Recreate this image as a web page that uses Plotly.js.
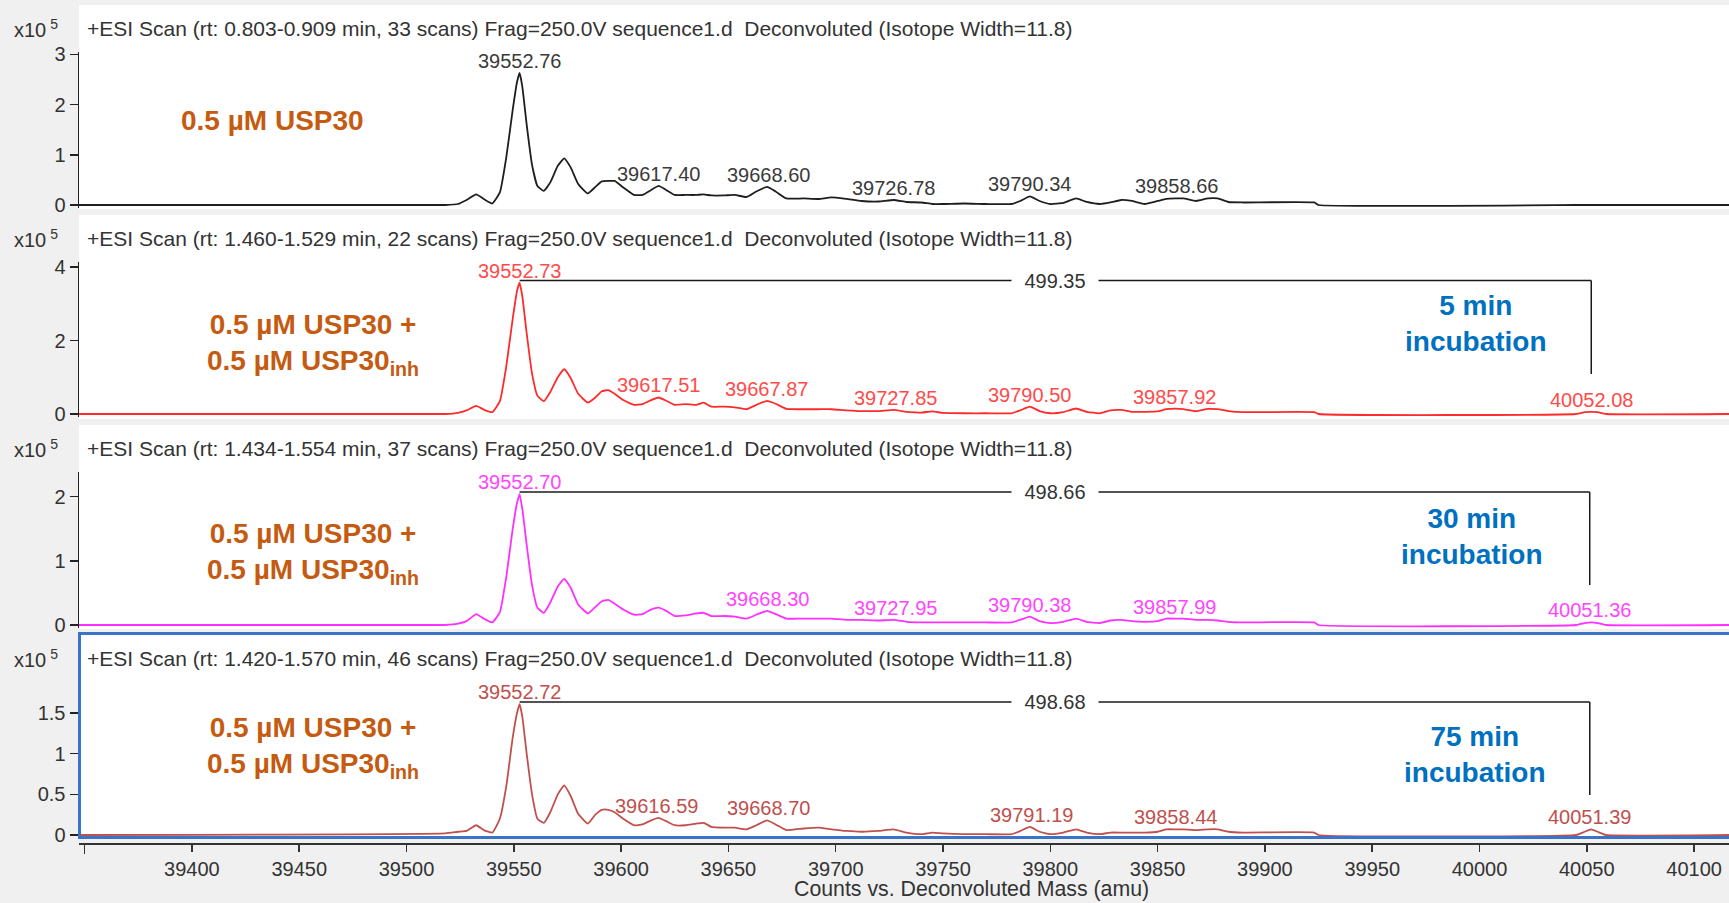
<!DOCTYPE html>
<html><head><meta charset="utf-8">
<script src="https://cdn.plot.ly/plotly-3.0.1.min.js"></script>
<style>html,body{margin:0;padding:0;background:#f0f0f0;} #chart{width:1729px;height:903px;}</style>
</head><body><div id="chart"></div>
<script>
// ---------------- DATA ----------------
const mass = [39347,39518,39524,39528,39532.5,39536,39540,39543.5,39546.5,39549.5,39551.5,39552.7,39554,39556,39558.5,39561,39564,39567,39570.5,39573.5,39576.5,39580,39584.5,39588,39591,39594,39597,39601,39606,39610,39614,39617.5,39621,39625,39630,39635,39638.5,39642,39648,39653,39658.5,39663,39668,39672,39677,39685,39692,39698,39705,39712,39720,39727,39733,39740,39745,39750,39760,39770,39782,39786,39790.5,39795,39800,39806,39812,39817,39823,39828,39833,39838,39844,39850,39854,39858.5,39862,39868,39873.5,39878,39883,39890,39923,39925,40045,40049,40052,40055,40059,40117];

// intensities, x10^5 counts
const usp30 = [0,0,0.02,0.1,0.21,0.12,0.03,0.25,0.95,1.9,2.45,2.63,2.35,1.6,0.8,0.38,0.28,0.45,0.78,0.93,0.75,0.42,0.23,0.36,0.47,0.48,0.48,0.35,0.2,0.2,0.3,0.38,0.3,0.2,0.2,0.2,0.21,0.19,0.19,0.2,0.16,0.27,0.36,0.27,0.13,0.13,0.12,0.15,0.12,0.08,0.07,0.1,0.06,0.05,0.02,0.02,0.03,0.02,0.02,0.08,0.17,0.08,0.02,0.04,0.13,0.06,0.02,0.05,0.1,0.08,0.02,0.08,0.12,0.13,0.13,0.08,0.13,0.13,0.06,0.05,0.05,0,0,0,0,0,0,0];
const inh5min = [0,0,0.03,0.1,0.22,0.12,0.05,0.35,1.3,2.6,3.35,3.58,3.2,2.2,1.1,0.5,0.35,0.6,1.0,1.22,0.98,0.55,0.31,0.45,0.62,0.65,0.55,0.38,0.25,0.27,0.38,0.45,0.36,0.25,0.27,0.25,0.31,0.2,0.2,0.18,0.13,0.25,0.36,0.28,0.14,0.13,0.13,0.13,0.1,0.08,0.08,0.11,0.06,0.04,0.07,0.03,0.02,0.02,0.02,0.1,0.2,0.08,0.02,0.05,0.15,0.06,0.02,0.1,0.11,0.06,0.06,0.07,0.13,0.145,0.13,0.08,0.14,0.13,0.08,0.05,0.05,0,0,0.05,0.06,0.05,0,0];
const inh30min = [0,0,0.02,0.06,0.17,0.1,0.04,0.2,0.75,1.5,1.9,2.04,1.8,1.25,0.62,0.27,0.19,0.35,0.6,0.72,0.58,0.32,0.18,0.28,0.37,0.39,0.33,0.24,0.16,0.17,0.24,0.27,0.22,0.14,0.15,0.18,0.19,0.14,0.14,0.13,0.1,0.16,0.22,0.17,0.1,0.1,0.1,0.1,0.08,0.08,0.07,0.08,0.05,0.04,0.04,0.04,0.04,0.04,0.04,0.08,0.13,0.06,0.03,0.05,0.1,0.05,0.03,0.07,0.08,0.06,0.05,0.06,0.1,0.1,0.1,0.08,0.08,0.07,0.05,0.04,0.04,0,0,0.03,0.04,0.03,0,0];
const inh75min = [0,0.02,0.04,0.05,0.12,0.06,0.03,0.2,0.6,1.2,1.5,1.61,1.45,1.0,0.5,0.2,0.15,0.28,0.5,0.61,0.48,0.26,0.14,0.25,0.31,0.31,0.28,0.2,0.12,0.13,0.18,0.21,0.17,0.12,0.12,0.14,0.15,0.1,0.09,0.09,0.07,0.12,0.18,0.13,0.06,0.08,0.09,0.07,0.05,0.04,0.05,0.07,0.03,0.01,0.03,0.02,0.01,0.01,0.01,0.05,0.1,0.04,0.01,0.03,0.07,0.03,0.01,0.03,0.03,0.03,0.03,0.04,0.07,0.07,0.07,0.06,0.07,0.07,0.04,0.03,0.03,0,0,0.04,0.07,0.04,0,0];

const headers = [
  "+ESI Scan (rt: 0.803-0.909 min, 33 scans) Frag=250.0V sequence1.d  Deconvoluted (Isotope Width=11.8)",
  "+ESI Scan (rt: 1.460-1.529 min, 22 scans) Frag=250.0V sequence1.d  Deconvoluted (Isotope Width=11.8)",
  "+ESI Scan (rt: 1.434-1.554 min, 37 scans) Frag=250.0V sequence1.d  Deconvoluted (Isotope Width=11.8)",
  "+ESI Scan (rt: 1.420-1.570 min, 46 scans) Frag=250.0V sequence1.d  Deconvoluted (Isotope Width=11.8)"
];
const peakLabels1 = ["39552.76","39617.40","39668.60","39726.78","39790.34","39858.66"];
const peakLabels2 = ["39552.73","39617.51","39667.87","39727.85","39790.50","39857.92","40052.08"];
const peakLabels3 = ["39552.70","39668.30","39727.95","39790.38","39857.99","40051.36"];
const peakLabels4 = ["39552.72","39616.59","39668.70","39791.19","39858.44","40051.39"];

const bracketStart = [null, 39552.73, 39552.70, 39552.72];
const bracketEnd   = [null, 40052.08, 40051.36, 40051.39];
const bracketDelta = [null, "499.35", "498.66", "498.68"];

const conditionLabels = ["0.5 µM USP30",
  "0.5 µM USP30 +<br>0.5 µM USP30<sub>inh</sub>",
  "0.5 µM USP30 +<br>0.5 µM USP30<sub>inh</sub>",
  "0.5 µM USP30 +<br>0.5 µM USP30<sub>inh</sub>"];
const timeLabels = [null, "5 min<br>incubation", "30 min<br>incubation", "75 min<br>incubation"];

const yTicks1 = [0,1,2,3];
const yTicks2 = [0,2,4];
const yTicks3 = [0,1,2];
const yTicks4 = [0,0.5,1,1.5];
const xTickVals = [39400,39450,39500,39550,39600,39650,39700,39750,39800,39850,39900,39950,40000,40050,40100];
const xTickText = ["39400","39450","39500","39550","39600","39650","39700","39750","39800","39850","39900","39950","40000","40050","40100"];
const xUnlabeledTicks = [39350];
const xTitle = "Counts vs. Deconvoluted Mass (amu)";

// ---------------- LAYOUT HELPERS ----------------
const W = 1729, H = 903;
const fx = p => p / W;
const fy = p => 1 - p / H;
const FONT = "Liberation Sans, Arial, Helvetica, sans-serif";
const TXT = "#333333";

const series = [usp30, inh5min, inh30min, inh75min];
const peakLabels = [peakLabels1, peakLabels2, peakLabels3, peakLabels4];
const yTicks = [yTicks1, yTicks2, yTicks3, yTicks4];
const lineColors = ["#1e1e1e", "#ff2a2a", "#ff30ff", "#c0504d"];
const labelColors = ["#3a3a3a", "#ff4a4a", "#ff45ff", "#c0504d"];
const panels = [
  {top: 52,    bottom: 208, zero: 205, ppu: 50.2, head: 28,  white: [5, 209],   cond: [272, 120.7], time: null},
  {top: 261.7, bottom: 417, zero: 414, ppu: 36.7, head: 238, white: [215, 419], cond: [313, 345],   time: [1476, 323.3]},
  {top: 471.7, bottom: 628, zero: 625, ppu: 64.2, head: 448.5, white: [425, 629], cond: [313, 553], time: [1471.5, 536.5]},
  {top: 681.7, bottom: 838, zero: 835, ppu: 81.3, head: 658.5, white: [633, 838], cond: [313, 747], time: [1475, 754]}
];
const xLeftPx = 79, xPx0 = 191.9, pxPerAmu = 2.146;
const xRange = [39400 - (xPx0 - xLeftPx) / pxPerAmu, 39400 + (W - xPx0) / pxPerAmu];

const traces = [];
const layout = {
  width: W, height: H,
  margin: {l: 0, r: 0, t: 0, b: 0, pad: 0},
  paper_bgcolor: "#f0f0f0",
  plot_bgcolor: "rgba(0,0,0,0)",
  showlegend: false,
  font: {family: FONT, size: 20, color: TXT},
  shapes: [], annotations: []
};

function localMax(s, m) {
  let best = 0;
  for (let k = 0; k < mass.length; k++) if (Math.abs(mass[k] - m) <= 5) best = Math.max(best, s[k]);
  return best;
}

panels.forEach((p, i) => {
  const n = i + 1;
  const xa = n === 1 ? "x" : "x" + n;
  const ya = n === 1 ? "y" : "y" + n;
  const xk = n === 1 ? "xaxis" : "xaxis" + n;
  const yk = n === 1 ? "yaxis" : "yaxis" + n;
  traces.push({x: mass, y: series[i], xaxis: xa, yaxis: ya, type: "scatter", mode: "lines",
    line: {color: lineColors[i], width: 1.8, shape: "spline", smoothing: 0.4}, hoverinfo: "skip"});

  const isBottom = (i === 3);
  layout[xk] = {
    domain: [fx(xLeftPx), 1], range: xRange, anchor: isBottom ? "free" : ya,
    showgrid: false, zeroline: false, fixedrange: true,
    showline: isBottom, linecolor: "#333", linewidth: 1.5,
    ticks: isBottom ? "outside" : "", ticklen: 7, tickwidth: 1.5, tickcolor: "#333",
    showticklabels: isBottom,
    tickmode: "array", tickvals: xTickVals, ticktext: xTickText,
    tickfont: {family: FONT, size: 20, color: TXT}
  };
  if (isBottom) {
    layout[xk].position = fy(843);
    layout[xk].minor = {tickmode: "array", tickvals: xUnlabeledTicks, ticks: "outside", ticklen: 9,
      tickwidth: 1.5, tickcolor: "#333", showgrid: false};
  }

  layout[yk] = {
    domain: [fy(p.bottom), fy(p.top)],
    range: [-(p.bottom - p.zero) / p.ppu, (p.zero - p.top) / p.ppu],
    anchor: xa, showgrid: false, zeroline: false, fixedrange: true,
    showline: true, linecolor: "#222", linewidth: 1.5,
    ticks: "outside", ticklen: 8, tickwidth: 1.5, tickcolor: "#222",
    tickmode: "array", tickvals: yTicks[i],
    tickfont: {family: FONT, size: 20, color: TXT}
  };

  // white panel background
  layout.shapes.push({type: "rect", xref: "paper", yref: "paper", layer: "below",
    x0: fx(xLeftPx), x1: 1, y0: fy(p.white[1]), y1: fy(p.white[0]),
    fillcolor: "white", line: {width: 0}});

  // header & exponent
  layout.annotations.push({xref: "paper", yref: "paper", x: fx(85), y: fy(p.head), xanchor: "left", yanchor: "middle",
    text: headers[i], showarrow: false, font: {family: FONT, size: 21, color: TXT}});
  layout.annotations.push({xref: "paper", yref: "paper", x: fx(12), y: fy(p.head), xanchor: "left", yanchor: "middle",
    text: "x10<sup> 5</sup>", showarrow: false, font: {family: FONT, size: 20, color: TXT}});

  // peak labels
  peakLabels[i].forEach(lbl => {
    const m = parseFloat(lbl);
    layout.annotations.push({xref: xa, yref: ya, x: m, y: localMax(series[i], m), xanchor: "center", yanchor: "bottom",
      yshift: -1, text: lbl, showarrow: false, font: {family: FONT, size: 20, color: labelColors[i]}});
  });

  // condition label
  layout.annotations.push({xref: "paper", yref: "paper", x: fx(p.cond[0]), y: fy(p.cond[1]), xanchor: "center", yanchor: "middle",
    align: "center", text: conditionLabels[i], showarrow: false,
    font: {family: FONT, size: 28, color: "#c55a11", weight: "bold"}});

  if (p.time) {
    layout.annotations.push({xref: "paper", yref: "paper", x: fx(p.time[0]), y: fy(p.time[1]), xanchor: "center", yanchor: "middle",
      align: "center", text: timeLabels[i], showarrow: false,
      font: {family: FONT, size: 28, color: "#0070c0", weight: "bold"}});
  }

  if (bracketStart[i] !== null) {
    const yTop = localMax(series[i], bracketStart[i]) + 2 / p.ppu;
    const yEnd = 40 / p.ppu;
    layout.shapes.push({type: "line", xref: xa, yref: ya, x0: bracketStart[i], x1: bracketEnd[i], y0: yTop, y1: yTop,
      line: {color: "#1a1a1a", width: 1.5}});
    layout.shapes.push({type: "line", xref: xa, yref: ya, x0: bracketEnd[i], x1: bracketEnd[i], y0: yTop, y1: yEnd,
      line: {color: "#1a1a1a", width: 1.5}});
    layout.annotations.push({xref: xa, yref: ya, x: (bracketStart[i] + bracketEnd[i]) / 2, y: yTop,
      xanchor: "center", yanchor: "middle", text: bracketDelta[i], showarrow: false,
      bgcolor: "white", width: 86, height: 22, borderpad: 0,
      font: {family: FONT, size: 20, color: TXT}});
  }
});

// selected-panel blue frame
layout.shapes.push({type: "rect", xref: "paper", yref: "paper", layer: "above",
  x0: fx(79.5), x1: fx(1740), y0: fy(837.5), y1: fy(633.5),
  fillcolor: "rgba(0,0,0,0)", line: {color: "#3b73c9", width: 3}});

// x-axis title
layout.annotations.push({xref: "paper", yref: "paper", x: fx(972), y: fy(889), xanchor: "center", yanchor: "middle",
  text: xTitle, showarrow: false, font: {family: FONT, size: 21.3, color: TXT}});

Plotly.newPlot("chart", traces, layout, {displayModeBar: false, staticPlot: true});
</script>
</body></html>
